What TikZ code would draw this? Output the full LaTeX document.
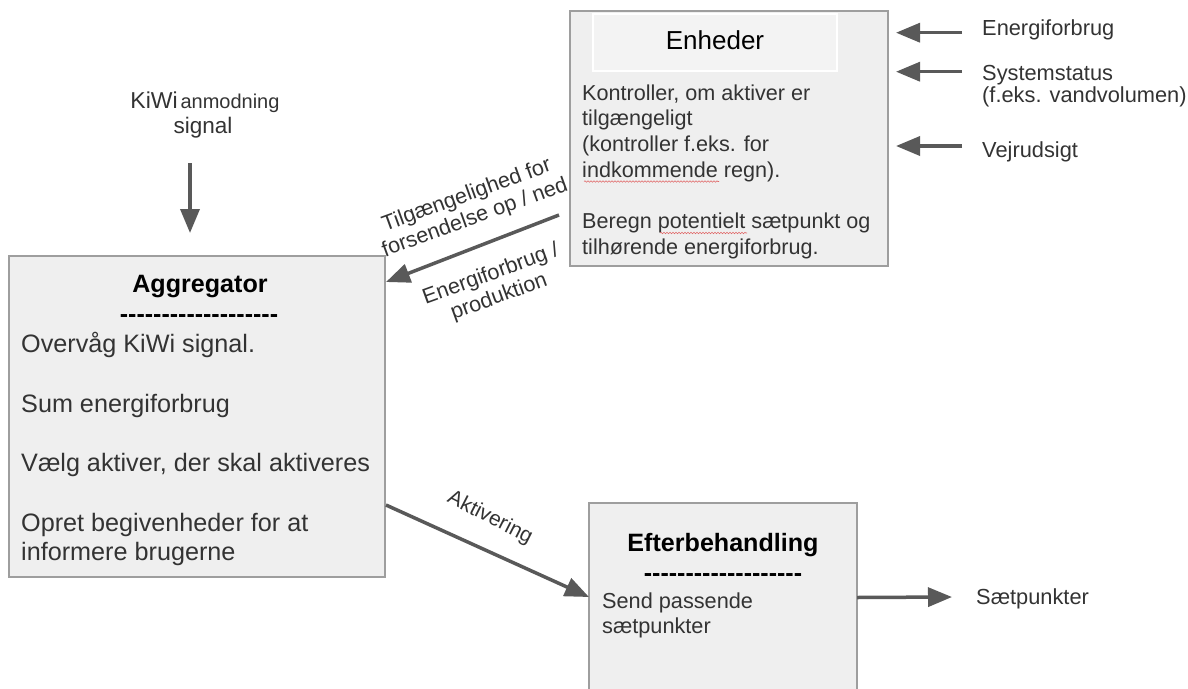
\documentclass[tikz,border=0pt]{standalone}
\usepackage{fontspec}
\setmainfont{Liberation Sans}
\newfontfamily\nolig{Liberation Sans}
\usetikzlibrary{arrows.meta,decorations.pathmorphing}
\definecolor{boxfill}{HTML}{EFEFEF}
\definecolor{titlefill}{HTML}{F3F3F3}
\definecolor{boxline}{HTML}{9E9E9E}
\definecolor{arrowc}{HTML}{595959}
\definecolor{txt}{HTML}{333333}
\definecolor{squig}{HTML}{E06666}
\begin{document}
\begin{tikzpicture}[x=1pt,y=-1pt,
  box/.style={draw=boxline, fill=boxfill, line width=1.5pt, inner sep=0pt},
  arr/.style={draw=arrowc, line width=3.5pt, -{Triangle[length=24pt,width=19pt]}},
  ln/.style={anchor=base west, inner sep=0pt, text=txt},
  enhtxt/.style={ln, font=\fontsize{21.6}{25}\selectfont},
  aggtxt/.style={ln, font=\fontsize{25.2}{29}\selectfont},
  efttxt/.style={ln, font=\fontsize{21.7}{26}\selectfont},
  sidetxt/.style={ln, font=\fontsize{21.8}{25}\selectfont},
  boxtitle/.style={anchor=base, inner sep=0pt, text=black, font=\bfseries\fontsize{25.1}{29}\selectfont},
  dashrow/.style={anchor=base, inner sep=0pt, text=black, font=\nolig\bfseries\fontsize{25}{29}\selectfont},
  rotlab/.style={inner sep=0pt, text=txt, align=center, font=\fontsize{21.6}{24}\selectfont},
  squiggle/.style={draw=squig, line width=0.6pt, decorate, decoration={snake, amplitude=0.7pt, segment length=3pt}}
]
\useasboundingbox (0,0) rectangle (1188,688);
\clip (0,0) rectangle (1188,688);

% ---- Enheder box ----
\node[box, minimum width=318pt, minimum height=255pt] (enh) at (729,138.5) {};
\node[draw=white, fill=titlefill, line width=1.5pt, minimum width=244pt, minimum height=57pt, inner sep=0pt] (enhhead) at (715,42.5) {};
\node[anchor=base, inner sep=0pt, text=black, font=\fontsize{26}{30}\selectfont] (enhtitle) at (715,49.5) {Enheder};
\node[enhtxt] (e1) at (582,100) {Kontroller, om aktiver er};
\node[enhtxt] (e2) at (582,125.7) {tilgængeligt};
\node[enhtxt] (e3) at (582,151.4) {(kontroller f.eks. for};
\node[enhtxt] (e4) at (582,177.1) {indkommende regn).};
\node[enhtxt] (e5) at (582,228.5) {Beregn potentielt sætpunkt og};
\node[enhtxt] (e6) at (582,254.2) {tilhørende energiforbrug.};
\draw[squiggle] (584,181.5) -- (719,181.5);
\draw[squiggle] (660,233) -- (747,233);

% ---- inputs on the right ----
\node[sidetxt] (s1) at (982,35) {Energiforbrug};
\node[sidetxt] (s2) at (982,80) {Systemstatus};
\node[sidetxt] (s3) at (982,102) {(f.eks. vandvolumen)};
\node[sidetxt] (s4) at (982,157) {Vejrudsigt};
\coordinate (r1a) at (962,32.7); \coordinate (r1b) at (896,32.7);
\coordinate (r2a) at (962,71.7); \coordinate (r2b) at (896,71.7);
\coordinate (r3a) at (962,146);  \coordinate (r3b) at (896,146);
\draw[arr] (r1a) -- (r1b);
\draw[arr] (r2a) -- (r2b);
\draw[arr] (r3a) -- (r3b);

% ---- KiWi signal ----
\node[anchor=base, inner sep=0pt, text=txt] (kiwi1) at (205,108) {{\fontsize{23}{26}\selectfont KiWi} {\fontsize{20}{22}\selectfont anmodning}};
\node[anchor=base, inner sep=0pt, text=txt, font=\fontsize{22.5}{25}\selectfont] (kiwi2) at (203,133) {signal};
\coordinate (ka) at (190,163); \coordinate (kb) at (190,233);
\draw[arr] (ka) -- (kb);

% ---- Aggregator box ----
\node[box, minimum width=376pt, minimum height=321pt] (agg) at (197,416.5) {};
\node[boxtitle] (aggtitle) at (200,292.7) {Aggregator};
\node[dashrow] (aggdash) at (199,322) {-------------------};
\node[aggtxt] (a1) at (21,352) {Overvåg KiWi signal.};
\node[aggtxt] (a2) at (21,412) {Sum energiforbrug};
\node[aggtxt] (a3) at (21,471) {Vælg aktiver, der skal aktiveres};
\node[aggtxt] (a4) at (21,531) {Opret begivenheder for at};
\node[aggtxt] (a5) at (21,560.5) {informere brugerne};

% ---- Enheder -> Aggregator ----
\coordinate (eas) at (559,215); \coordinate (eat) at (386,282);
\draw[arr] (eas) -- (eat);
\node[rotlab, rotate=20] (labup) at (471,207) {Tilgængelighed for\\forsendelse op / ned};
\node[rotlab, rotate=20] (labdn) at (495,286) {Energiforbrug /\\produktion};

% ---- Efterbehandling box ----
\node[box, minimum width=268pt, minimum height=200pt] (eft) at (723,603) {};
\node[boxtitle] (efttitle) at (723,551.7) {Efterbehandling};
\node[dashrow] (eftdash) at (723,581) {-------------------};
\node[efttxt] (f1) at (602,608) {Send passende};
\node[efttxt] (f2) at (602,633.5) {sætpunkter};

% ---- Aggregator -> Efterbehandling ----
\coordinate (afs) at (386,505); \coordinate (aft) at (589,597);
\draw[arr] (afs) -- (aft);
\node[rotlab, rotate=-27, font=\fontsize{21}{22}\selectfont] (labakt) at (490,518) {Aktivering};

% ---- output ----
\coordinate (outs) at (857,597.5); \coordinate (outt) at (952,597);
\draw[arr] (outs) -- (outt);
\node[sidetxt] (outlab) at (976,604.5) {Sætpunkter};
\end{tikzpicture}
\end{document}
